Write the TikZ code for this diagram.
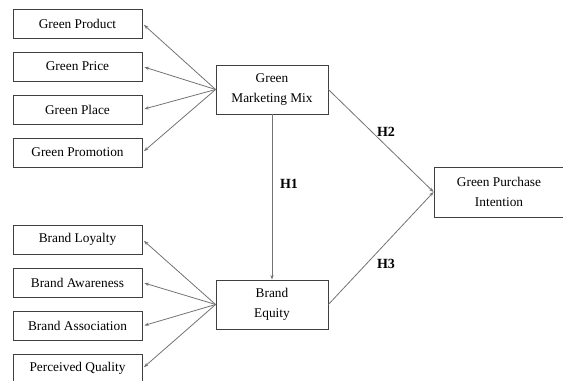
\documentclass[tikz,border=0pt]{standalone}
\usepackage{fontspec}
\setmainfont{Liberation Serif}
\usetikzlibrary{arrows.meta}

\tikzset{every picture/.style={line width=0.75pt}}
\tikzset{
  factorbox/.style={draw=black!75,line width=0.6pt,minimum width=96.75pt,minimum height=21.75pt,inner sep=0.75pt,font=\fontsize{10}{15}\selectfont,align=center},
  constructbox/.style={draw=black!75,line width=0.6pt,minimum width=84pt,minimum height=36.75pt,inner sep=0.75pt,font=\fontsize{10}{15}\selectfont,align=center},
  linkarrow/.style={draw=black!55,line width=0.6pt,-{Stealth[length=3.5pt,width=2.5pt]}},
  hyplabel/.style={inner sep=0.75pt,font=\fontsize{10.5}{12}\selectfont\bfseries}
}

\begin{document}
\begin{tikzpicture}[x=0.75pt,y=0.75pt,yscale=-1,xscale=1]
\useasboundingbox (0,0) rectangle (563,381);

% Marketing mix items
\node [factorbox] (gprod) at (77.5,23.5) {Green Product};
\node [factorbox] (gprice) at (77.5,66.5) {Green Price};
\node [factorbox] (gplace) at (77.5,109.5) {Green Place};
\node [factorbox] (gpromo) at (77.5,152.5) {Green Promotion};

% Brand equity items
\node [factorbox] (bloyal) at (77.5,239.5) {Brand Loyalty};
\node [factorbox] (baware) at (77.5,282.5) {Brand Awareness};
\node [factorbox] (bassoc) at (77.5,326) {Brand Association};
\node [factorbox] (pqual) at (77.5,368.5) {Perceived Quality};

% Constructs
\node [constructbox] (gmm) at (272,89.5) {Green\\Marketing Mix};
\node [constructbox] (beq) at (272,304.5) {Brand\\Equity};
\node [constructbox,minimum width=97.5pt,minimum height=37.5pt] (gpi) at (499,192) {Green Purchase\\Intention};

% Indicator arrows
\foreach \item in {gprod,gprice,gplace,gpromo}
  \draw [linkarrow,shorten >=1.5pt] (gmm.west) -- (\item.east);
\foreach \item in {bloyal,baware,bassoc,pqual}
  \draw [linkarrow,shorten >=1.5pt] (beq.west) -- (\item.east);

% Hypotheses
\draw [linkarrow] (gmm.south) -- (beq.north);
\draw [linkarrow] (gmm.east) -- (gpi.west);
\draw [linkarrow] (beq.east) -- (gpi.west);

% Text Node
\node [hyplabel] (h1) at (289,184) {H1};
% Text Node
\node [hyplabel] (h2) at (386,132) {H2};
% Text Node
\node [hyplabel] (h3) at (386,264) {H3};

\end{tikzpicture}
\end{document}
